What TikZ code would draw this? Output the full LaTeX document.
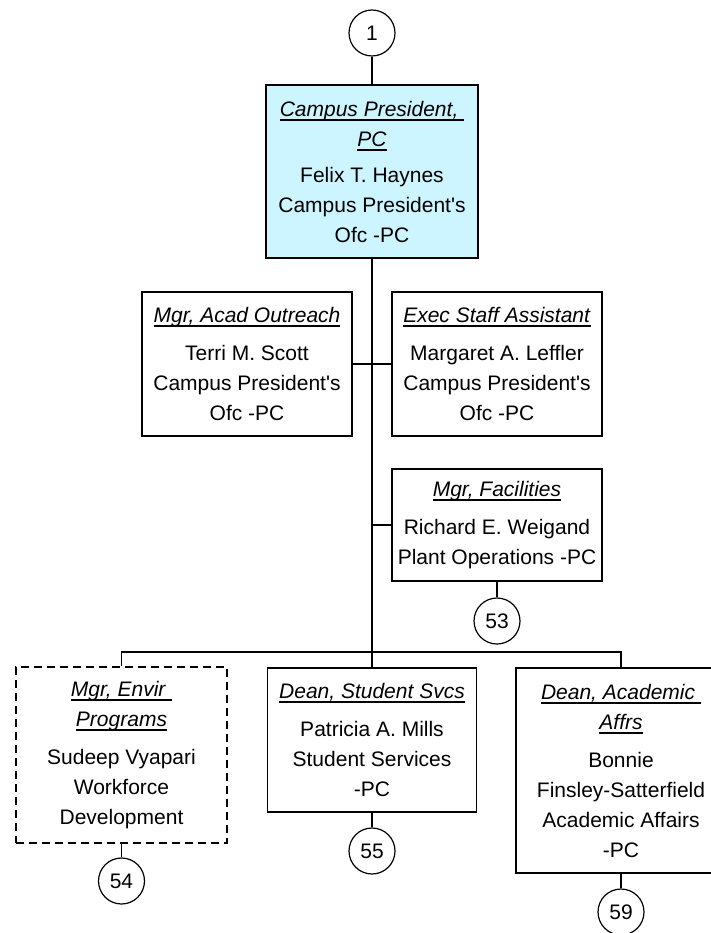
\documentclass[tikz,border=0pt]{standalone}
\usepackage{fontspec}
\setmainfont{Liberation Sans}[Ligatures=TeXOff]
\definecolor{presfill}{RGB}{204,245,255}
\newsavebox\ttlbox
\newcommand\ttl[1]{\sbox\ttlbox{\textit{#1}}\rlap{\rule[-4.5pt]{\wd\ttlbox}{1.6pt}}\usebox\ttlbox}
\tikzset{
  box/.style={draw, line width=1.4pt, inner sep=0pt, align=center,
    font=\fontsize{21}{30}\selectfont},
  ref/.style={draw, line width=1.2pt, circle, minimum size=46pt, inner sep=0pt,
    font=\fontsize{21}{24}\selectfont},
  conn/.style={line width=1.4pt}
}
\begin{document}
\begin{tikzpicture}[x=1pt,y=-1pt]
\useasboundingbox (0,0) rectangle (711,933);
% reference circles
\node[ref] (c1) at (372,33) {1};
\node[ref] (c53) at (497,621) {53};
\node[ref] (c54) at (121.5,881) {54};
\node[ref] (c55) at (372,851) {55};
\node[ref] (c59) at (621,912) {59};
% boxes
\node[box, fill=presfill, minimum width=212pt, minimum height=173pt] (pres) at (372,171.5)
  {\ttl{Campus President,\ }\\\ttl{PC}\\[6pt]Felix T. Haynes\\Campus President's\\Ofc -PC};
\node[box, minimum width=210pt, minimum height=144pt] (acad) at (247,364)
  {\ttl{Mgr, Acad Outreach}\\[8pt]Terri M. Scott\\Campus President's\\Ofc -PC};
\node[box, minimum width=210pt, minimum height=144pt] (exec) at (497,364)
  {\ttl{Exec Staff Assistant}\\[8pt]Margaret A. Leffler\\Campus President's\\Ofc -PC};
\node[box, minimum width=210pt, minimum height=112pt] (fac) at (497,525)
  {\ttl{Mgr, Facilities}\\[8pt]Richard E. Weigand\\Plant Operations -PC};
\node[box, dash pattern=on 8pt off 5pt, minimum width=211pt, minimum height=176pt] (envir) at (121.5,755)
  {\ttl{Mgr, Envir\ }\\\ttl{Programs}\\[8pt]Sudeep Vyapari\\Workforce\\Development};
\node[box, minimum width=209pt, minimum height=144pt] (stud) at (372,740)
  {\ttl{Dean, Student Svcs}\\[8pt]Patricia A. Mills\\Student Services\\-PC};
\node[box, minimum width=210pt, minimum height=205pt] (acaf) at (621,770.5)
  {\ttl{Dean, Academic\ }\\\ttl{Affrs}\\[8pt]Bonnie\\Finsley-Satterfield\\Academic Affairs\\-PC};
% connectors
\coordinate (bus) at (372,652);
\draw[conn] (c1.south) -- (pres.north);
\draw[conn] (pres.south) -- (stud.north);
\draw[conn] (acad.east) -- (exec.west);
\draw[conn] (fac.west) -- (fac.west -| pres.south);
\draw[conn] (fac.south) -- (c53.north);
\draw[conn] (envir.north) |- (bus) -| (acaf.north);
\draw[conn] (envir.south) -- (c54.north);
\draw[conn] (stud.south) -- (c55.north);
\draw[conn] (acaf.south) -- (c59.north);
\end{tikzpicture}
\end{document}
